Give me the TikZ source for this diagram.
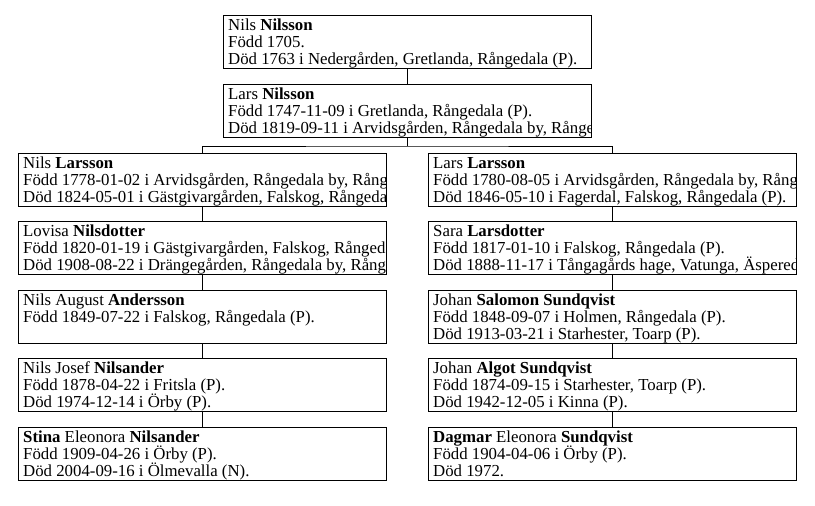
\documentclass[tikz,border=0pt]{standalone}
\usepackage{fontspec}
\setmainfont{Liberation Serif}
\usepackage{tikz}

% text face of the boxes, fixed line pitch
\protected\def\ptextfont{\fontsize{16.8}{17}\selectfont
  \lineskiplimit=-20pt\relax \lineskip=0pt\relax}

\tikzset{
  pbox/.style={draw, line width=1pt, anchor=north west, outer sep=0pt, inner sep=0pt,
    minimum width=368pt, minimum height=53pt},
  ptext/.style={anchor=north west, align=left, inner sep=0pt, font=\ptextfont},
  link/.style={line width=1pt}
}

% box with text cut off at its border
\newcommand\person[3]{%
  \node[pbox] (#1) at (#2) {};
  \begin{scope}
    \clip (#1.north west) rectangle (#1.south east);
    \node[ptext] (#1-text) at ([shift={(5pt,-3.5pt)}]#1.north west) {\strut #3};
  \end{scope}}

\begin{document}
\begin{tikzpicture}[x=1pt,y=-1pt]
        % Fix the page size
        \useasboundingbox (0,0) rectangle (815,506);

        % Oldest generations
        \person{nils}{223,15}{Nils \textbf{Nilsson}\\Född 1705.\\Död 1763 i Nedergården, Gretlanda, Rångedala (P).}
        \person{lars}{223,84}{Lars \textbf{Nilsson}\\Född 1747-11-09 i Gretlanda, Rångedala (P).\\Död 1819-09-11 i Arvidsgården, Rångedala by, Rånge}

        % Left line
        \person{nilsL}{18,153}{Nils \textbf{Larsson}\\Född 1778-01-02 i Arvidsgården, Rångedala by, Rång\\Död 1824-05-01 i Gästgivargården, Falskog, Rångeda}
        \person{lovisa}{18,221}{Lovisa \textbf{Nilsdotter}\\Född 1820-01-19 i Gästgivargården, Falskog, Rånged\\Död 1908-08-22 i Drängegården, Rångedala by, Rång}
        \person{august}{18,290}{Nils August \textbf{Andersson}\\Född 1849-07-22 i Falskog, Rångedala (P).}
        \person{josef}{18,358}{Nils Josef \textbf{Nilsander}\\Född 1878-04-22 i Fritsla (P).\\Död 1974-12-14 i Örby (P).}
        \person{stina}{18,427}{\textbf{Stina} Eleonora \textbf{Nilsander}\\Född 1909-04-26 i Örby (P).\\Död 2004-09-16 i Ölmevalla (N).}

        % Right line
        \person{larsL}{428,153}{Lars \textbf{Larsson}\\Född 1780-08-05 i Arvidsgården, Rångedala by, Rång\\Död 1846-05-10 i Fagerdal, Falskog, Rångedala (P).}
        \person{sara}{428,221}{Sara \textbf{Larsdotter}\\Född 1817-01-10 i Falskog, Rångedala (P).\\Död 1888-11-17 i Tångagårds hage, Vatunga, Äspered}
        \person{salomon}{428,290}{Johan \textbf{Salomon Sundqvist}\\Född 1848-09-07 i Holmen, Rångedala (P).\\Död 1913-03-21 i Starhester, Toarp (P).}
        \person{algot}{428,358}{Johan \textbf{Algot Sundqvist}\\Född 1874-09-15 i Starhester, Toarp (P).\\Död 1942-12-05 i Kinna (P).}
        \person{dagmar}{428,427}{\textbf{Dagmar} Eleonora \textbf{Sundqvist}\\Född 1904-04-06 i Örby (P).\\Död 1972.}

        % Connectors
        \draw[link] (nils.south) -- (lars.north);
        \coordinate (split) at ([yshift=-9pt]lars.south);
        \draw[link] (lars.south) -- (split);
        \draw[link] (nilsL.north) |- (split) -| (larsL.north);
        \draw[link] (nilsL.south) -- (lovisa.north);
        \draw[link] (lovisa.south) -- (august.north);
        \draw[link] (august.south) -- (josef.north);
        \draw[link] (josef.south) -- (stina.north);
        \draw[link] (larsL.south) -- (sara.north);
        \draw[link] (sara.south) -- (salomon.north);
        \draw[link] (salomon.south) -- (algot.north);
        \draw[link] (algot.south) -- (dagmar.north);
    \end{tikzpicture}
\end{document}
